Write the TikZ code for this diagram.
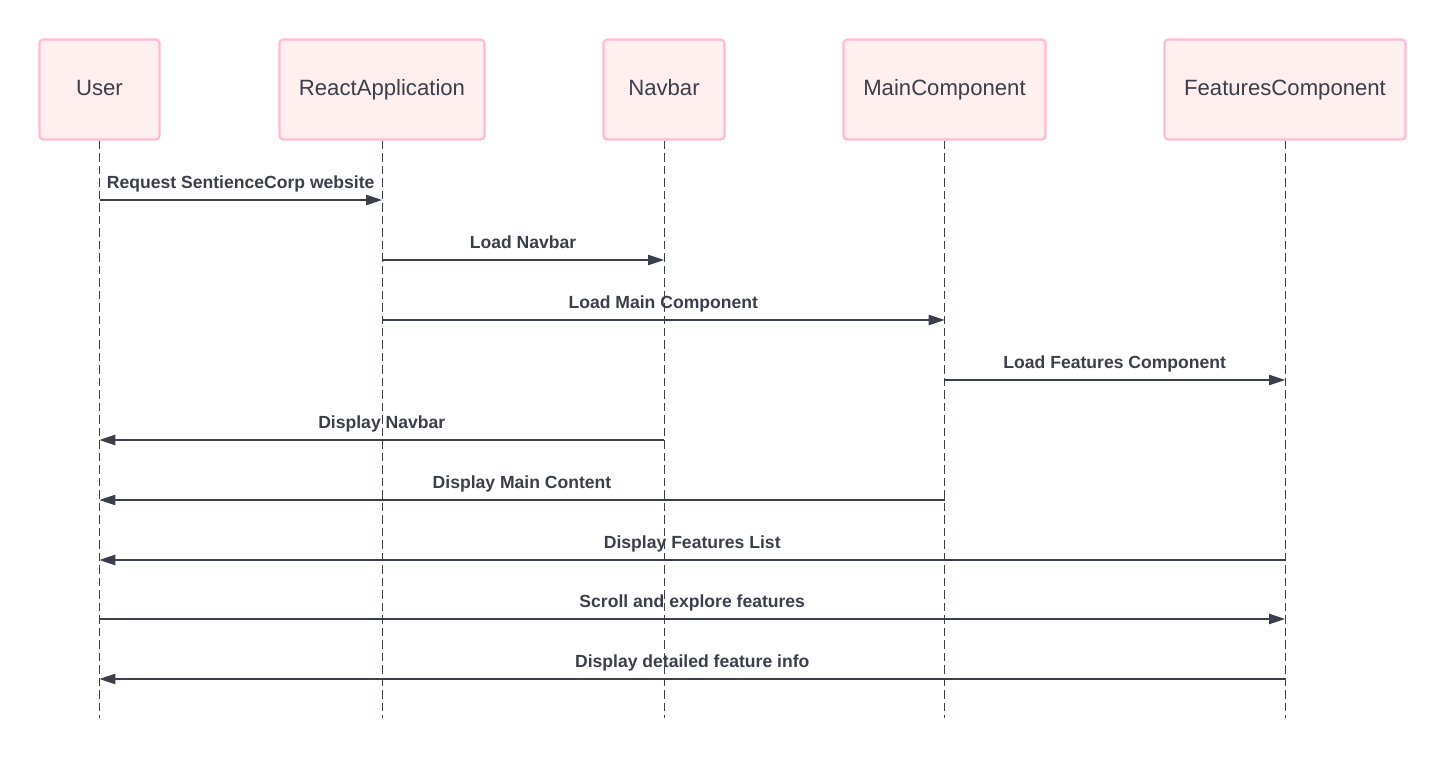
\documentclass[tikz,border=0pt]{standalone}
\usepackage{fontspec}
\setmainfont{Liberation Sans}
\usepackage{tikz}
\usetikzlibrary{arrows.meta}
\usetikzlibrary{positioning}
\definecolor{boxfill}{HTML}{FFEFEF}
\definecolor{boxline}{HTML}{FFBAD4}
\definecolor{inkgray}{HTML}{3A3F4A}
\tikzset{
    actor/.style={
        draw=boxline,
        line width=1.2pt,
        fill=boxfill,
        rounded corners=2pt,
        minimum height=2cm,
        text height=9.2pt,
        text depth=2.6pt,
        text=inkgray,
        font=\fontsize{12.6}{15}\selectfont
    },
    lifeline/.style={
        draw=inkgray,
        line width=0.5pt,
        dash pattern=on 0.17cm off 0.08cm
    },
    msg/.style={
        draw=inkgray,
        line width=0.6pt,
        -{Triangle[length=3.2mm, width=2.1mm]}
    },
    msglabel/.style={
        above=0.9pt,
        text height=7.4pt,
        text depth=2.1pt,
        text=inkgray,
        font=\fontsize{10}{12}\selectfont\bfseries
    }
}

\begin{document}
\begin{tikzpicture}[x=0.02cm, y=-0.02cm]
    \useasboundingbox (0,0) rectangle (1447,759);
    % Participants
    \node[actor, minimum width=2.4cm] (user) at (99.5,89.5) {User};
    \node[actor, minimum width=4.1cm] (react) at (382,89.5) {ReactApplication};
    \node[actor, minimum width=2.42cm] (navbar) at (664,89.5) {Navbar};
    \node[actor, minimum width=4.04cm] (main) at (944.5,89.5) {MainComponent};
    \node[actor, minimum width=4.82cm] (features) at (1285,89.5) {FeaturesComponent};

    % Lifelines
    \coordinate (bottom) at (0,718);
    \draw[lifeline] (user) -- (user |- bottom);
    \draw[lifeline] (react) -- (react |- bottom);
    \draw[lifeline] (navbar) -- (navbar |- bottom);
    \draw[lifeline] (main) -- (main |- bottom);
    \draw[lifeline] (features) -- (features |- bottom);

    % Message rows
    \coordinate (m1) at (0,200);
    \coordinate (m2) at (0,260);
    \coordinate (m3) at (0,320);
    \coordinate (m4) at (0,380);
    \coordinate (m5) at (0,440);
    \coordinate (m6) at (0,500);
    \coordinate (m7) at (0,560);
    \coordinate (m8) at (0,619);
    \coordinate (m9) at (0,679);

    % Messages
    \draw[msg] (user |- m1) to node[msglabel] {Request SentienceCorp website} (react |- m1);
    \draw[msg] (react |- m2) to node[msglabel] {Load Navbar} (navbar |- m2);
    \draw[msg] (react |- m3) to node[msglabel] {Load Main Component} (main |- m3);
    \draw[msg] (main |- m4) to node[msglabel] {Load Features Component} (features |- m4);
    \draw[msg] (navbar |- m5) to node[msglabel] {Display Navbar} (user |- m5);
    \draw[msg] (main |- m6) to node[msglabel] {Display Main Content} (user |- m6);
    \draw[msg] (features |- m7) to node[msglabel] {Display Features List} (user |- m7);
    \draw[msg] (user |- m8) to node[msglabel] {Scroll and explore features} (features |- m8);
    \draw[msg] (features |- m9) to node[msglabel] {Display detailed feature info} (user |- m9);
\end{tikzpicture}
\end{document}
